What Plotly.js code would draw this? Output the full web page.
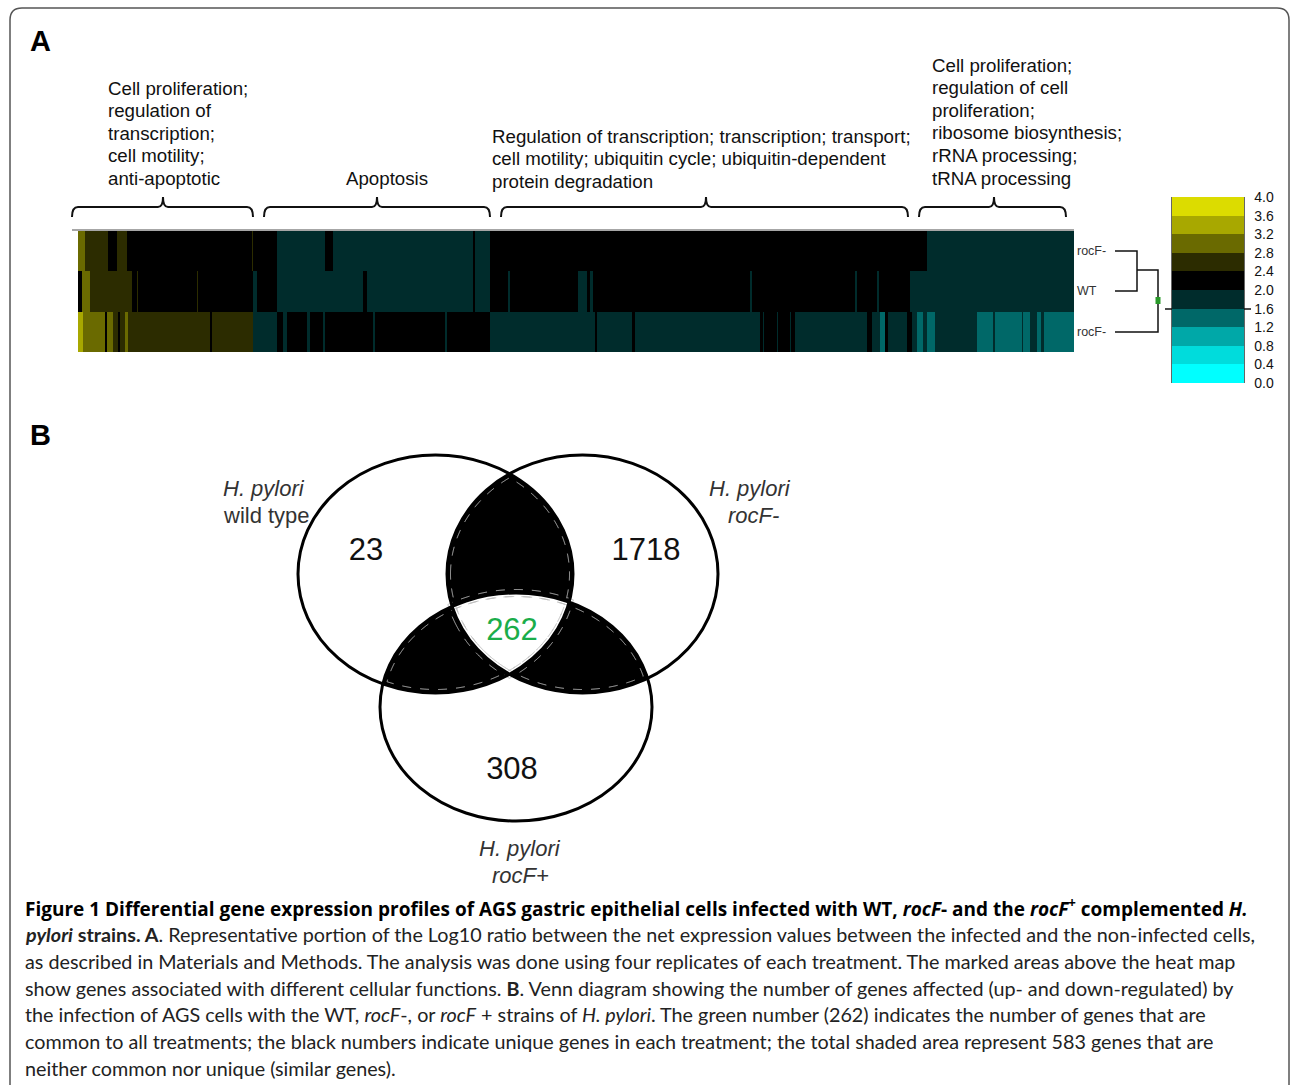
<!DOCTYPE html>
<html><head><meta charset="utf-8">
<script src="https://cdn.plot.ly/plotly-3.0.1.min.js"></script>
<style>html,body{margin:0;padding:0;background:#fff}</style>
</head><body><div id="chart" style="width:1290px;height:1085px"></div>
<script>
// ---------------- DATA ----------------
// Heat map: genes (columns) along x, 3 treatments (rows). Run-length encoded: [start gene index, log10 ratio value]
const nGenes = 996;
const rowLabels = ['rocF-', 'WT', 'rocF-']; // top to bottom as printed
const runsRocFminus = [[0,3.0],[7,2.6],[30,2.2],[39,2.6],[49,2.2],[174,2.6],[175,2.2],[199,1.8],[247,2.2],[255,1.8],[395,2.2],[397,1.8],[412,2.2],[849,1.8]];
const runsWT = [[0,2.2],[4,3.0],[12,2.6],[54,2.2],[59,2.6],[60,2.2],[119,2.6],[120,2.2],[175,1.8],[179,2.2],[199,1.8],[285,2.2],[289,1.8],[395,2.2],[397,1.8],[412,2.2],[430,1.8],[432,2.2],[500,1.8],[509,2.2],[512,1.8],[515,2.2],[672,1.8],[674,2.2],[777,1.8],[779,2.2],[799,1.8],[801,2.2],[832,1.8]];
const runsRocFplus = [[0,3.4],[5,3.0],[27,2.2],[29,3.0],[35,2.6],[40,2.2],[42,2.6],[47,3.0],[50,2.6],[132,2.2],[134,2.6],[175,1.8],[199,2.2],[205,1.8],[209,2.2],[229,1.8],[232,2.2],[245,1.8],[247,2.2],[295,1.8],[297,2.2],[367,1.8],[369,2.2],[412,1.8],[517,2.2],[519,1.8],[554,2.2],[557,1.8],[682,2.2],[685,1.8],[686,2.2],[699,1.8],[700,2.2],[712,1.8],[713,2.2],[717,1.8],[789,2.2],[794,1.8],[802,1.4],[807,2.2],[810,1.8],[829,2.2],[834,1.8],[839,1.4],[845,1.8],[849,1.4],[857,1.8],[899,1.4],[915,1.8],[917,1.4],[944,1.8],[945,1.4],[952,1.8],[959,1.4],[963,1.8],[966,1.4]];

const scaleTicks = [0.0,0.4,0.8,1.2,1.6,2.0,2.4,2.8,3.2,3.6,4.0];
const bandColors = ['#00ffff','#00dcdc','#00a8a8','#006868','#002c2c','#000000','#2c2c00','#6a6a00','#a8a800','#dcdc00'];

const groupLabels1 = ['Cell proliferation;','regulation of','transcription;','cell motility;','anti-apoptotic'];
const groupLabels2 = ['Apoptosis'];
const groupLabels3 = ['Regulation of transcription; transcription; transport;','cell motility; ubiquitin cycle; ubiquitin-dependent','protein degradation'];
const groupLabels4 = ['Cell proliferation;','regulation of cell','proliferation;','ribosome biosynthesis;','rRNA processing;','tRNA processing'];

// Venn diagram
const vennCounts = ['23','1718','262','308'];
const vennCountColors = ['#111111','#111111','#1aad4a','#111111'];
const vennSetNames = [['<i>H. pylori</i>','wild type'],['<i>H. pylori</i>','<i>rocF-</i>'],['<i>H. pylori</i>','<i>rocF+</i>']];

const captionLines = [
 '<b>Figure 1 Differential gene expression profiles of AGS gastric epithelial cells infected with WT, <i>rocF</i>- and the <i>rocF</i><sup>+</sup> complemented <i>H.</i></b>',
 '<b><i>pylori</i> strains. A</b>. Representative portion of the Log10 ratio between the net expression values between the infected and the non-infected cells,',
 'as described in Materials and Methods. The analysis was done using four replicates of each treatment. The marked areas above the heat map',
 'show genes associated with different cellular functions. <b>B</b>. Venn diagram showing the number of genes affected (up- and down-regulated) by',
 'the infection of AGS cells with the WT, <i>rocF</i>-, or <i>rocF</i> + strains of <i>H. pylori</i>. The green number (262) indicates the number of genes that are',
 'common to all treatments; the black numbers indicate unique genes in each treatment; the total shaded area represent 583 genes that are',
 'neither common nor unique (similar genes).'
];

// ---------------- BUILD ----------------
const W = 1290, H = 1085;
const rowsBottomUp = [runsRocFplus, runsWT, runsRocFminus];
const edgeSet = new Set([nGenes]);
rowsBottomUp.forEach(r => r.forEach(s => edgeSet.add(s[0])));
const edges = Array.from(edgeSet).sort((a,b)=>a-b);
function valAt(runs, g){ let v = runs[0][1]; for (const s of runs){ if (s[0] <= g) v = s[1]; else break; } return v; }
const z = rowsBottomUp.map(r => edges.slice(0,-1).map(g => valAt(r, g)));

const colorscale = [];
bandColors.forEach((c,i)=>{ colorscale.push([i/10, c]); colorscale.push([(i+1)/10, c]); });

const font = 'Liberation Sans, Arial, sans-serif';
const hmLeft = 78, hmRight = 1074, hmTop = 231, hmBottom = 352;
const cbTop = 197, cbBottom = 383, cbLeft = 1172, cbRight = 1244;

const traces = [{
  type: 'heatmap', x: edges, y: [0,1,2], z: z, zmin: 0, zmax: 4,
  colorscale: colorscale, zsmooth: false, hoverinfo: 'skip', xaxis: 'x', yaxis: 'y',
  colorbar: {
    x: cbLeft / W, xanchor: 'left', xpad: 0, ypad: 0,
    y: 1 - cbTop / H, yanchor: 'top', len: cbBottom - cbTop, lenmode: 'pixels',
    thickness: cbRight - cbLeft, thicknessmode: 'pixels', outlinewidth: 0,
    tickvals: scaleTicks, ticktext: scaleTicks.map(v => v.toFixed(1)),
    ticks: 'outside', ticklen: 8, tickcolor: 'rgba(0,0,0,0)',
    tickfont: {family: font, size: 14, color: '#111'}
  }
}];

// Venn geometry (pixel coordinates)
const ell = [
  {cx: 435.5, cy: 574, rx: 137.5, ry: 119},
  {cx: 582.5, cy: 574, rx: 135.5, ry: 119},
  {cx: 516,   cy: 707, rx: 136,   ry: 114}
];
const countPos = [[366,552],[646,552],[512,632],[512,771]];
traces.push({
  type: 'scatter', mode: 'text', x: countPos.map(p=>p[0]), y: countPos.map(p=>p[1]),
  text: vennCounts, textposition: 'middle center',
  textfont: {family: font, size: 31, color: vennCountColors},
  xaxis: 'x2', yaxis: 'y2', hoverinfo: 'skip', showlegend: false
});

function inside(e, d, x, y){ const a=(x-e.cx)/(e.rx+d), b=(y-e.cy)/(e.ry+d); return a*a+b*b <= 1+1e-9; }
function regionPath(list, d){
  const N = 1440; const pts = [];
  list.forEach(e => {
    for (let i=0;i<N;i++){
      const t = 2*Math.PI*i/N;
      const x = e.cx + (e.rx+d)*Math.cos(t), y = e.cy + (e.ry+d)*Math.sin(t);
      if (list.every(f => f===e || inside(f, d, x, y))) pts.push([x,y]);
    }
  });
  const cx = pts.reduce((s,p)=>s+p[0],0)/pts.length, cy = pts.reduce((s,p)=>s+p[1],0)/pts.length;
  pts.sort((p,q)=>Math.atan2(p[1]-cy,p[0]-cx)-Math.atan2(q[1]-cy,q[0]-cx));
  return 'M' + pts.map(p=>p[0].toFixed(2)+','+p[1].toFixed(2)).join('L') + 'Z';
}
const shapes = [];
const S = (o) => Object.assign({xref:'x2', yref:'y2'}, o);
const pairs = [[ell[0],ell[1]],[ell[0],ell[2]],[ell[1],ell[2]]];
pairs.forEach(p => shapes.push(S({type:'path', path: regionPath(p,0), fillcolor:'#000', line:{width:0}, layer:'below'})));
shapes.push(S({type:'path', path: regionPath(ell,0), fillcolor:'#fff', line:{width:0}, layer:'below'}));
pairs.forEach(p => shapes.push(S({type:'path', path: regionPath(p,-3.5), fillcolor:'rgba(0,0,0,0)', line:{width:1, color:'#bbb', dash:'dash'}, layer:'below'})));
shapes.push(S({type:'path', path: regionPath(ell,3.5), fillcolor:'rgba(0,0,0,0)', line:{width:1, color:'#bbb', dash:'dash'}, layer:'below'}));
ell.forEach(e => shapes.push(S({type:'circle', x0:e.cx-e.rx, x1:e.cx+e.rx, y0:e.cy-e.ry, y1:e.cy+e.ry, line:{color:'#000', width:3}, layer:'below'})));

// frame
shapes.push(S({type:'path', path:'M10,1100 L10,20 Q10,8 22,8 L1277,8 Q1289,8 1289,20 L1289,1100', line:{color:'#555', width:1.5}}));
// heatmap top rule
shapes.push(S({type:'line', x0:72, x1:hmRight, y0:230, y1:230, line:{color:'#888', width:1.5}}));
// brackets
[[72,163,253],[264,377,490],[501,706,908],[919,994,1066]].forEach(b => {
  const [a,c,e] = b, y = 207;
  shapes.push(S({type:'path', path:`M${a},217 Q${a},${y} ${a+6},${y} L${c-5},${y} Q${c},${y} ${c},${y-10} Q${c},${y} ${c+5},${y} L${e-6},${y} Q${e},${y} ${e},217`, line:{color:'#111', width:2}}));
});
// dendrogram
const dl = {color:'#111', width:1.5};
shapes.push(S({type:'path', path:'M1115,251 L1137,251 L1137,291 L1115,291', line:dl}));
shapes.push(S({type:'path', path:'M1137,270 L1158,270 L1158,332 L1115,332', line:dl}));
shapes.push(S({type:'rect', x0:1155.5, x1:1160.5, y0:297, y1:304, fillcolor:'#2a9a2a', line:{width:0}}));
// colorbar side lines and 1.6 tick
shapes.push(S({type:'line', x0:cbLeft, x1:cbLeft, y0:cbTop, y1:cbBottom, line:{color:'#333', width:1.5}}));
shapes.push(S({type:'line', x0:cbRight, x1:cbRight, y0:cbTop, y1:cbBottom, line:{color:'#333', width:1.5}}));
shapes.push(S({type:'line', x0:cbLeft-7, x1:cbLeft+6, y0:309, y1:309, line:{color:'#111', width:1.5}}));
shapes.push(S({type:'line', x0:cbRight-6, x1:cbRight+7, y0:309, y1:309, line:{color:'#111', width:1.5}}));

// annotations
const ann = [];
const A = (o) => Object.assign({xref:'x2', yref:'y2', showarrow:false}, o);
function lines(arr, x, y0, dy, xanchor, size){
  arr.forEach((t,i) => ann.push(A({text:t, x:x, y:y0+i*dy, xanchor:xanchor, yanchor:'middle', font:{family:font, size:size, color:'#111'}})));
}
lines(groupLabels1, 106, 88, 22.5, 'left', 18.7);
lines(groupLabels2, 387, 178, 22.5, 'center', 18.7);
lines(groupLabels3, 490, 136, 22.5, 'left', 18.7);
lines(groupLabels4, 930, 65, 22.6, 'left', 18.7);
ann.push(A({text:'<b>A</b>', x:28, y:41, xanchor:'left', yanchor:'middle', font:{family:font, size:29, color:'#000'}}));
ann.push(A({text:'<b>B</b>', x:28, y:435, xanchor:'left', yanchor:'middle', font:{family:font, size:29, color:'#000'}}));
[['rocF-',251],['WT',291],['rocF-',332]].forEach((r,i)=> ann.push(A({text: rowLabels[i], x:1075, y:r[1], xanchor:'left', yanchor:'middle', font:{family:font, size:12.5, color:'#333'}})));
const setPos = [[[264,488],[266,515]],[[750,488],[753,515]],[[520,848],[520,875]]];
vennSetNames.forEach((nm,i) => nm.forEach((t,j) => ann.push(A({text:t, x:setPos[i][j][0], y:setPos[i][j][1], xanchor:'center', yanchor:'middle', font:{family:font, size:22, color:'#333'}}))));
captionLines.forEach((t,i) => ann.push(A({text:t, x:23, y:908 + i*26.7, xanchor:'left', yanchor:'middle',
  font:{family: i === 0 ? 'Open Sans, sans-serif' : 'Lato, sans-serif', size: i === 0 ? 19 : 19.75, color: i === 0 ? '#000' : '#222'}})));

const layout = {
  width: W, height: H, margin:{l:0,r:0,t:0,b:0}, paper_bgcolor:'#fff', plot_bgcolor:'rgba(0,0,0,0)',
  showlegend:false,
  xaxis:{domain:[hmLeft/W, hmRight/W], range:[0,nGenes], visible:false, fixedrange:true},
  yaxis:{domain:[1-hmBottom/H, 1-hmTop/H], range:[-0.5,2.5], visible:false, fixedrange:true},
  xaxis2:{domain:[0,1], range:[0,W], visible:false, fixedrange:true, anchor:'y2'},
  yaxis2:{domain:[0,1], range:[H,0], visible:false, fixedrange:true, anchor:'x2'},
  shapes: shapes, annotations: ann
};
Plotly.newPlot('chart', traces, layout, {staticPlot:true, displayModeBar:false});
</script></body></html>
